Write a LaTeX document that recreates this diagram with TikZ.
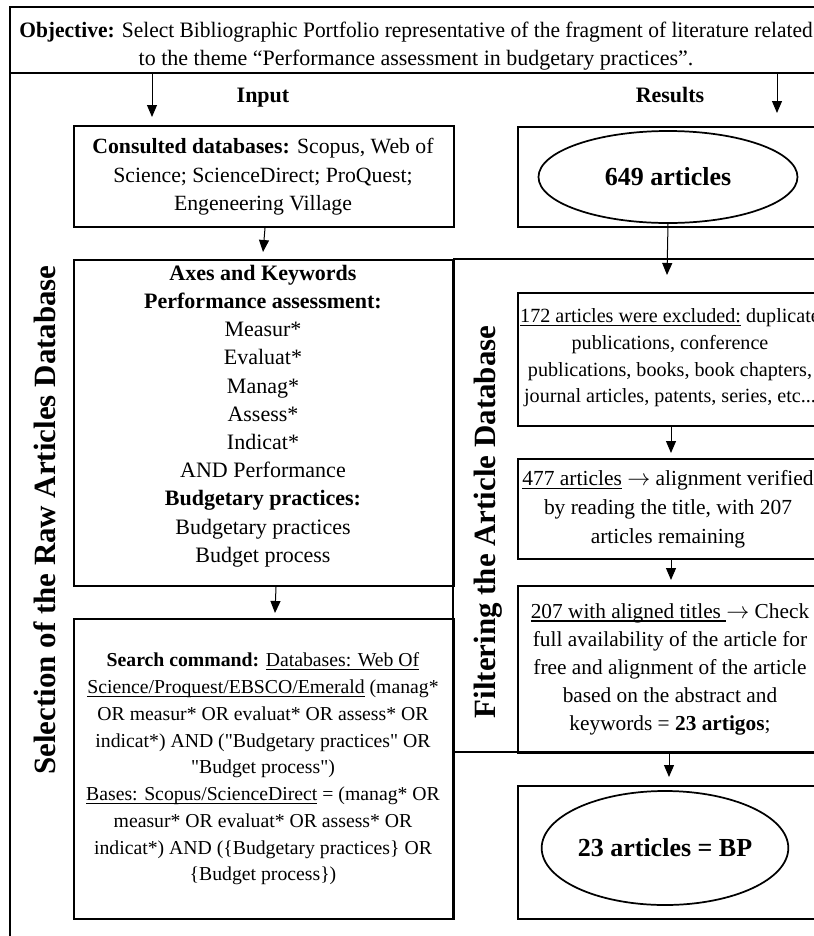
\documentclass[tikz,border=0pt]{standalone}
\usepackage{fontspec}
\setmainfont{Liberation Serif}
\newfontfamily\sqfont{Liberation Serif}[Ligatures=TeXOff]
\usetikzlibrary{arrows.meta,calc,shapes.geometric}
\newcommand\myul[1]{\setbox0\hbox{#1}\rlap{\rule[-2.6pt]{\wd0}{0.9pt}}\box0\relax}
\newcommand\sq{{\sqfont"}}
\begin{document}
\begin{tikzpicture}[x=0.75pt,y=-0.75pt,
  frame/.style={line width=2pt},
  rect/.style 2 args={draw, line width=1.5pt, rectangle, inner sep=0pt, anchor=north west,
     minimum width={#1*0.75pt}, minimum height={#2*0.75pt}},
  oval/.style 2 args={draw, line width=1.3pt, ellipse, inner sep=0pt,
     minimum width={#1*0.75pt}, minimum height={#2*0.75pt},
     font=\bfseries\fontsize{19.5}{23}\selectfont},
  arr/.style={line width=0.75pt, -{Triangle[width=7.5pt,length=9pt]}},
  body/.style 2 args={align=center, inner sep=0pt, font=\fontsize{#1}{#2}\selectfont},
  head/.style={inner sep=0pt, anchor=base, font=\bfseries\fontsize{16.5}{20}\selectfont},
  side/.style={rotate=90, inner sep=0pt, font=\bfseries\fontsize{23.2}{27}\selectfont}]
\useasboundingbox (0,0) rectangle (814,936);
\fill[white] (0,0) rectangle (814,936);
\clip (0,0) rectangle (814,936);

% frame
\draw[frame] (10,7) -- (830,7);
\draw[frame] (10,73) -- (830,73);
\draw[frame] (10,6) -- (10,940);
\draw[frame] (453,259) -- (830,259);
\draw[frame] (453,259) -- (453,918);
\draw[frame] (453,752) -- (830,752);

% objective
\node[body={16.5}{21pt}] (obj) at (416,46) {\resizebox{595pt}{\height}{{\bfseries Objective:} Select Bibliographic Portfolio representative of the fragment of literature related}\\
to the theme “Performance assessment in budgetary practices”.};

\node[head] (input) at (263,102) {Input};
\node[head] (results) at (670,102) {Results};

% left column
\node[rect={380}{101}] (cons) at (73,125) {};
\node[body={16.3}{21.4pt}] (consT) at (263,177) {{\bfseries Consulted databases:} Scopus, Web of\\ Science; ScienceDirect; ProQuest;\\ Engeneering Village};

\node[rect={380}{326}] (axes) at (73,259) {};
\node[body={16.5}{21.15pt}] (axesT) at (263,416) {{\bfseries Axes and Keywords}\\
{\bfseries Performance assessment:}\\
Measur*\\ Evaluat*\\ Manag*\\ Assess*\\ Indicat*\\ AND Performance\\
{\bfseries Budgetary practices:}\\
Budgetary practices\\ Budget process};

\node[rect={380}{300}] (search) at (73,618) {};
\node[body={14.8}{20.05pt}] (searchT) at (263,769) {{\bfseries Search command:} \myul{Databases: Web Of}\\
\myul{Science/Proquest/EBSCO/Emerald} (manag*\\
OR measur* OR evaluat* OR assess* OR\\
indicat*) AND (\sq Budgetary practices\sq{} OR\\
\sq Budget process\sq)\\
\myul{Bases: Scopus/ScienceDirect} = (manag* OR\\
measur* OR evaluat* OR assess* OR\\
indicat*) AND (\{Budgetary practices\} OR\\
\{Budget process\})};

% right column
\node[rect={306}{100}] (b649) at (517,126) {};
\node[oval={259}{92}] (e649) at (668,177) {649 articles};

\node[rect={306}{133}] (b172) at (517,292) {};
\node[body={15.1}{20pt}] (t172) at (670,358) {\myul{172 articles were excluded:} duplicate\\
publications, conference\\
publications, books, book chapters,\\
journal articles, patents, series, etc...};

\node[rect={306}{100}] (b477) at (517,458) {};
\node[body={16.1}{21.75pt}] (t477) at (668,509) {\myul{477 articles} $\rightarrow$ alignment verified\\
by reading the title, with 207\\
articles remaining};

\node[rect={306}{167}] (b207) at (517,585) {};
\node[body={16}{21pt}] (t207) at (670,669) {\myul{207 with aligned titles }$\rightarrow$ Check\\
full availability of the article for\\
free and alignment of the article\\
based on the abstract and\\
keywords = {\bfseries 23 artigos};};

\node[rect={306}{133}] (bBP) at (517,785) {};
\node[oval={238}{114}] (eBP) at (665,848) {23 articles = BP};

% side labels
\node[side] (lsel) at (45,520) {Selection of the Raw Articles Database};
\node[side] (lfil) at (488,522) {Filtering the Article Database};

% arrows
\coordinate (inS) at (152,73);
\coordinate (inE) at (152,117);
\coordinate (resS) at (777,73);
\coordinate (resE) at (777,113);
\draw[arr] (inS) -- (inE);
\draw[arr] (resS) -- (resE);
\draw[arr] ($(cons.south)+(1,0)$) -- ($(axes.north)+(-1,-7)$);
\draw[arr] (e649.south) -- ($(b172.north)+(-4,-17)$);
\draw[arr] ($(axes.south)+(12,0)$) -- ($(search.north)+(11,-5)$);
\draw[arr] (b172.south) -- ($(b477.north)+(0,-5)$);
\draw[arr] (b477.south) -- ($(b207.north)+(0,-5)$);
\draw[arr] ($(b207.south)+(-2,0)$) -- ($(bBP.north)+(-2,-8)$);
\end{tikzpicture}
\end{document}
